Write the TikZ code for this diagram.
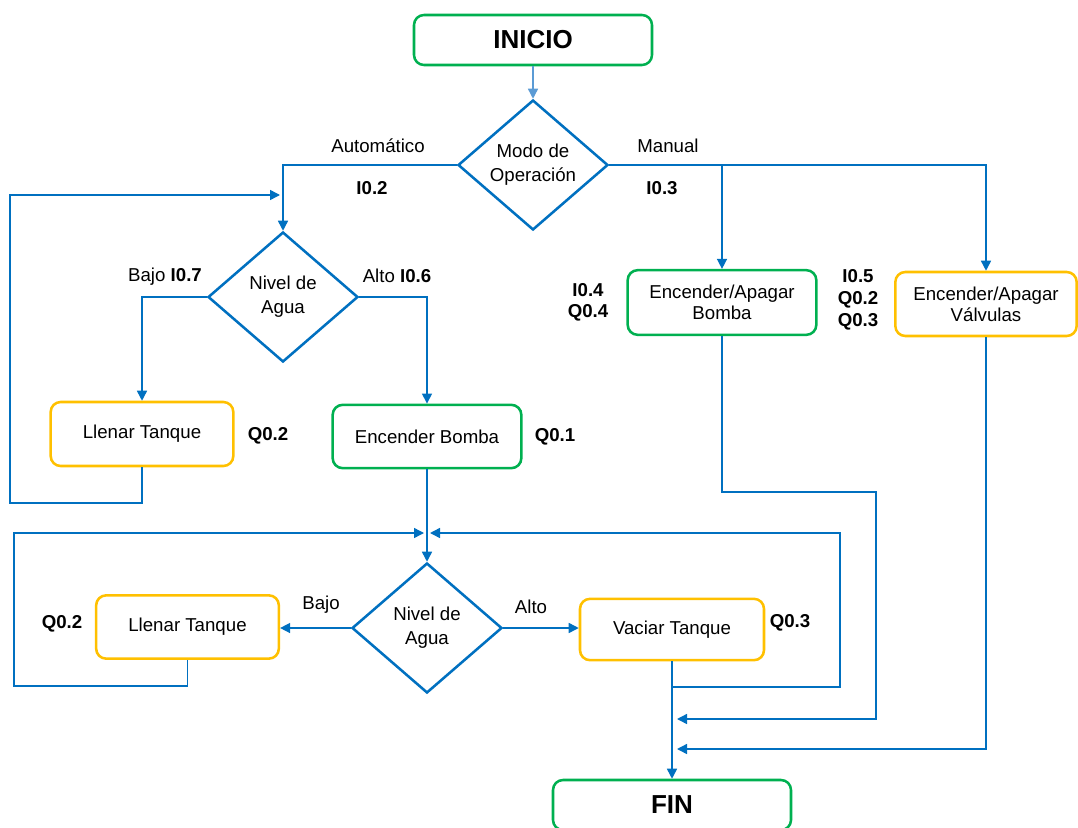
\documentclass[tikz,border=0pt]{standalone}
\usepackage{fontspec}
\setmainfont{Liberation Sans}
\usetikzlibrary{shapes.geometric,arrows.meta}

\definecolor{flowblue}{RGB}{0,112,192}
\definecolor{lightblue}{RGB}{91,155,213}
\definecolor{boxgreen}{RGB}{0,176,80}
\definecolor{boxyellow}{RGB}{255,192,0}

\begin{document}
\begin{tikzpicture}[x=0.75pt,y=-0.75pt,
	txt/.style={font=\fontsize{14}{16}\selectfont},
	tag/.style={font=\fontsize{14}{16}\selectfont\bfseries,align=center},
	greenbox/.style={draw=boxgreen,line width=1.9pt,rounded corners=7.5pt,txt,align=center},
	yellowbox/.style={draw=boxyellow,line width=1.9pt,rounded corners=7.5pt,txt,align=center},
	decision/.style={draw=flowblue,diamond,line width=1.9pt,inner sep=0pt,
		minimum width=112.5pt,minimum height=97.5pt,font=\fontsize{14}{18}\selectfont,align=center},
	flow/.style={draw=flowblue,line width=1.1pt,-{Triangle[width=7.5pt,length=7.5pt]}},
	line/.style={draw=flowblue,line width=1.1pt}]
	\useasboundingbox (0,0) rectangle (1078,828);

	% boxes
	\node[greenbox,minimum width=178.5pt,minimum height=37.5pt,
		font=\fontsize{19.5}{22}\selectfont\bfseries] (inicio) at (533,40) {INICIO};
	\node[decision] (modo) at (533,165) {Modo de\\Operación};
	\node[decision] (nivelA) at (283,297) {Nivel de\\Agua};
	\node[yellowbox,minimum width=137pt,minimum height=48pt] (llenarA) at (142,434) {Llenar Tanque};
	\node[greenbox,minimum width=141.5pt,minimum height=47.5pt] (bomba) at (427,436.5) {Encender Bomba};
	\node[greenbox,minimum width=141.5pt,minimum height=48.5pt] (mbomba) at (722,302.5) {Encender/Apagar\\Bomba};
	\node[yellowbox,minimum width=136pt,minimum height=48pt] (valv) at (986,304) {Encender/Apagar\\Válvulas};
	\node[decision] (nivelB) at (427,628) {Nivel de\\Agua};
	\node[yellowbox,minimum width=137pt,minimum height=47.5pt] (llenarB) at (187.5,627) {Llenar Tanque};
	\node[yellowbox,minimum width=138pt,minimum height=46pt] (vaciar) at (672,629.5) {Vaciar Tanque};
	\node[greenbox,minimum width=178.5pt,minimum height=37.5pt,
		font=\fontsize{19.5}{22}\selectfont\bfseries] (fin) at (672,805) {FIN};

	% labels
	\node[txt] (lauto) at (378,146) {Automático};
	\node[txt] (lman) at (668,146) {Manual};
	\node[tag] (ldos) at (372,188) {I0.2};
	\node[tag] (ltres) at (662,188) {I0.3};
	\node[txt] (lbajoA) at (165,277) {Bajo \textbf{I0.7}};
	\node[txt] (laltoA) at (397,276) {Alto \textbf{I0.6}};
	\node[tag] (lqa) at (268,436) {Q0.2};
	\node[tag] (lqb) at (555,437) {Q0.1};
	\node[tag] (lmb) at (588,302) {I0.4\\Q0.4};
	\node[tag,font=\fontsize{14}{16.5}\selectfont\bfseries] (lmv) at (858,300) {I0.5\\Q0.2\\Q0.3};
	\node[txt] (lbajoB) at (321,605) {Bajo};
	\node[txt] (laltoB) at (531,607) {Alto};
	\node[tag] (lqc) at (62,624) {Q0.2};
	\node[tag] (lqd) at (790,623) {Q0.3};

	% junction points
	\coordinate (inA) at (280,195);
	\coordinate (loopA) at (10,503);
	\coordinate (inB) at (424,533);
	\coordinate (loopB) at (14,686);
	\coordinate (inC) at (430,533);
	\coordinate (splitC) at (672,687);
	\coordinate (loopC) at (840,533);
	\coordinate (loopD) at (876,492);
	\coordinate (inD) at (677,719);
	\coordinate (inE) at (677,749);

	% connectors
	\draw[flow,draw=lightblue] (inicio) -- (modo.north);
	\draw[flow] (modo.west) -| (nivelA.north);
	\draw[flow] (modo.east) -| (valv.north);
	\draw[flow] (mbomba.north |- modo.east) -- (mbomba.north);
	\draw[flow] (nivelA.west) -| (llenarA.north);
	\draw[flow] (nivelA.east) -| (bomba.north);
	\draw[flow] (llenarA.south) |- (loopA) |- (inA);
	\draw[flow] (bomba.south) -- (nivelB.north);
	\draw[flow] (nivelB.west) -- (llenarB.east |- nivelB.west);
	\draw[flow] (nivelB.east) -- (vaciar.west |- nivelB.east);
	\draw[flow] (llenarB.south) |- (loopB) |- (inB);
	\draw[flow] (vaciar.south) -- (fin.north);
	\draw[flow] (splitC) -| (loopC) -- (inC);
	\draw[flow] (mbomba.south) |- (loopD) |- (inD);
	\draw[flow] (valv.south) |- (inE);
\end{tikzpicture}
\end{document}
